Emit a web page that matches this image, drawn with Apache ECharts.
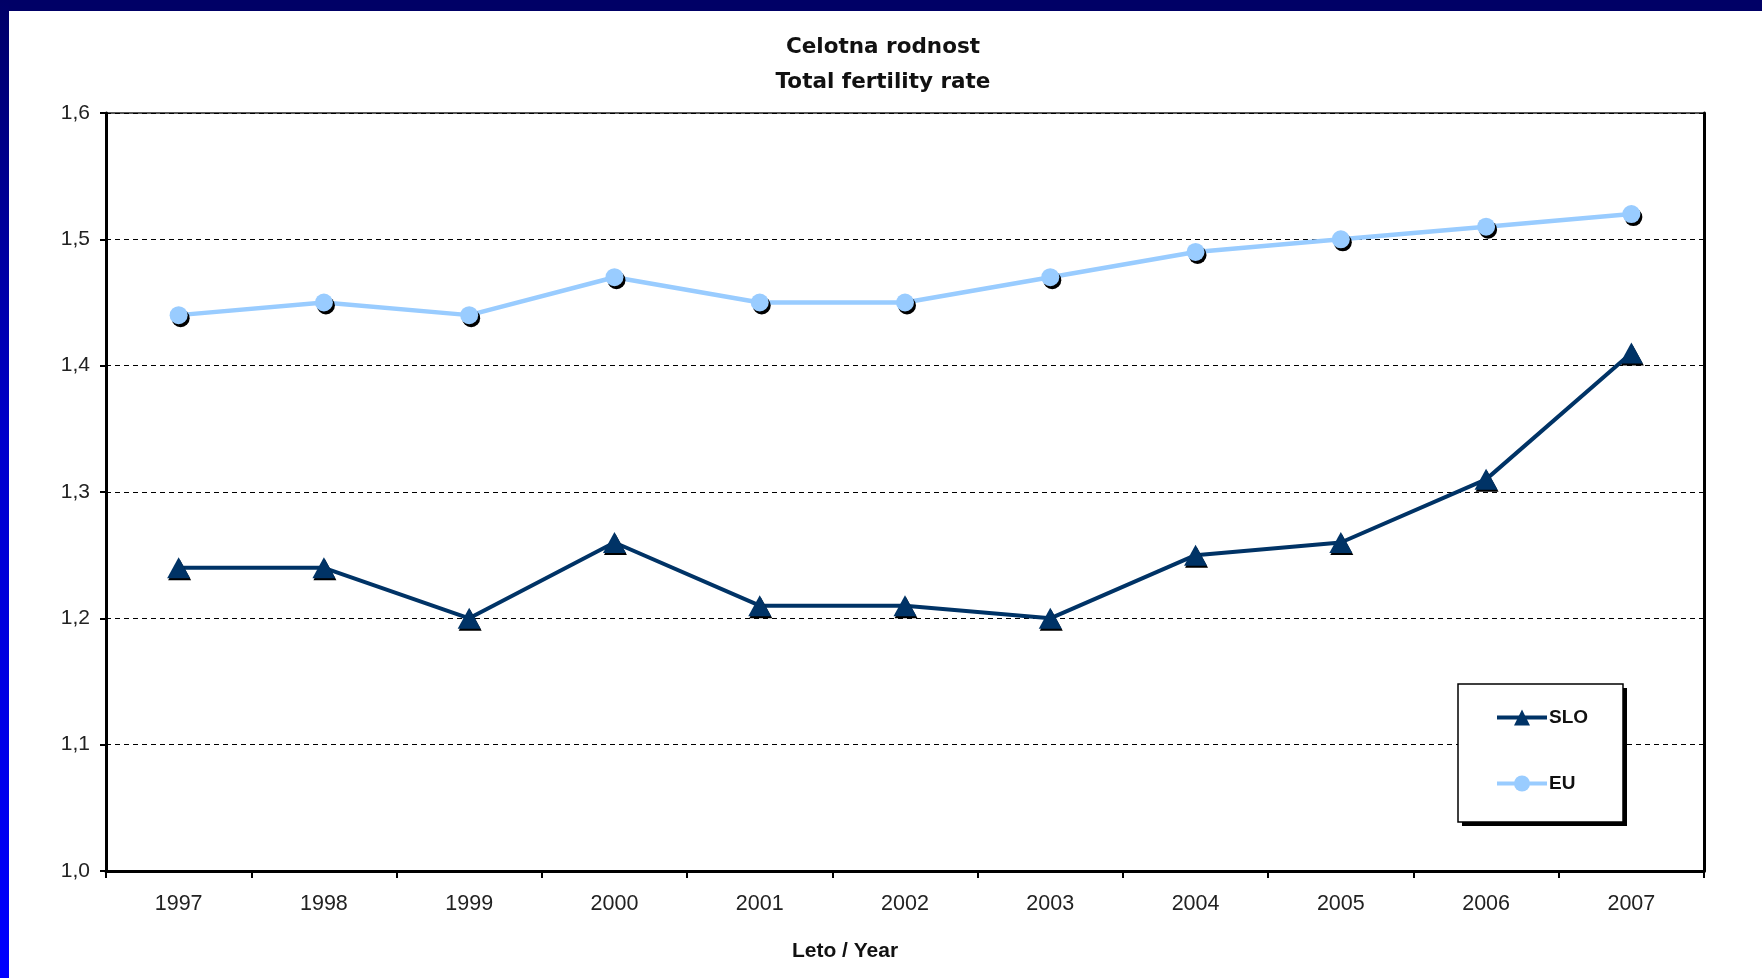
<!DOCTYPE html>
<html>
<head>
<meta charset="utf-8">
<script src="https://cdn.jsdelivr.net/npm/echarts@6/dist/echarts.min.js"></script>
<style>
html,body{margin:0;padding:0;background:#fff;}
#chart{width:1762px;height:978px;}
</style>
</head>
<body>
<div id="chart"></div>
<script>
const years = ['1997','1998','1999','2000','2001','2002','2003','2004','2005','2006','2007'];
const sloValues = [1.24,1.24,1.20,1.26,1.21,1.21,1.20,1.25,1.26,1.31,1.41];
const euValues  = [1.44,1.45,1.44,1.47,1.45,1.45,1.47,1.49,1.50,1.51,1.52];
const titleText = 'Celotna rodnost\nTotal fertility rate';
const xAxisTitle = 'Leto / Year';

const chart = echarts.init(document.getElementById('chart'));
const labelFont = {fontFamily:'Liberation Sans', fontSize:21, color:'#222'};

chart.setOption({
  backgroundColor:'#fff',
  animation:false,
  graphic:[
    {type:'rect', shape:{x:0,y:0,width:1762,height:11}, style:{fill:'#000066'}, z:100},
    {type:'rect', shape:{x:0,y:0,width:9,height:978},
     style:{fill:new echarts.graphic.LinearGradient(0,0,0,1,[
       {offset:0,color:'#000066'},{offset:0.45,color:'#0000cc'},{offset:1,color:'#0000ff'}])}, z:100},
    {type:'text', x:845, y:951, style:{text:xAxisTitle, align:'center', verticalAlign:'middle',
      font:'bold 21px "Liberation Sans"', fill:'#111'}},
    {type:'rect', shape:{x:1462,y:688,width:165,height:138}, style:{fill:'#000'}, z:5},
    {type:'rect', shape:{x:1458,y:684,width:165,height:138}, style:{fill:'#fff', stroke:'#000', lineWidth:1.5}, z:6}
  ],
  title:{
    text:titleText, left:878, top:25, textAlign:'center',
    textStyle:{fontFamily:'DejaVu Sans', fontWeight:'bold', fontSize:21.5, lineHeight:35, color:'#111'}
  },
  legend:{
    left:1458, top:684, orient:'vertical', z:10,
    padding:[24,34,27,37], itemGap:47, itemWidth:50, itemHeight:20,
    textStyle:{fontFamily:'Liberation Sans', fontWeight:'bold', fontSize:19, color:'#111', padding:[0,0,0,-3]},
    data:[
      {name:'SLO', lineStyle:{width:4}},
      {name:'EU', lineStyle:{width:4}}
    ]
  },
  grid:{left:106, right:58, top:113, bottom:107, show:true, borderColor:'#222', borderWidth:1.5, backgroundColor:'#fff'},
  xAxis:{
    type:'category', data:years, boundaryGap:true,
    axisLine:{lineStyle:{color:'#000', width:3}},
    axisTick:{show:true, length:7, lineStyle:{color:'#000', width:2}},
    axisLabel:{...labelFont, fontSize:21.5, margin:22},
    splitLine:{show:false}
  },
  yAxis:[{
    type:'value', min:1.0, max:1.6, interval:0.1,
    axisLine:{show:true, lineStyle:{color:'#000', width:3}},
    axisTick:{show:true, length:6, lineStyle:{color:'#000', width:2}},
    axisLabel:{...labelFont, margin:16, formatter:v=>v.toFixed(1).replace('.',',')},
    splitLine:{show:true, lineStyle:{color:'#000', width:1, type:[5,4]}}
  },{
    type:'value', min:1.0, max:1.6, interval:0.1, position:'right',
    axisLine:{show:true, lineStyle:{color:'#000', width:3}},
    axisTick:{show:false}, axisLabel:{show:false}, splitLine:{show:false}
  }],
  series:[
    {
      name:'SLO', type:'line', data:sloValues,
      symbol:'triangle', symbolSize:[23,21],
      lineStyle:{color:'#003366', width:4},
      itemStyle:{color:'#003366', shadowColor:'#000', shadowBlur:0, shadowOffsetX:1, shadowOffsetY:2},
      z:3
    },
    {
      name:'EU', type:'line', data:euValues,
      symbol:'circle', symbolSize:18,
      lineStyle:{color:'#99ccff', width:4.5},
      itemStyle:{color:'#99ccff', shadowColor:'#000', shadowBlur:0, shadowOffsetX:2, shadowOffsetY:3},
      z:3
    }
  ]
});
</script>
</body>
</html>
